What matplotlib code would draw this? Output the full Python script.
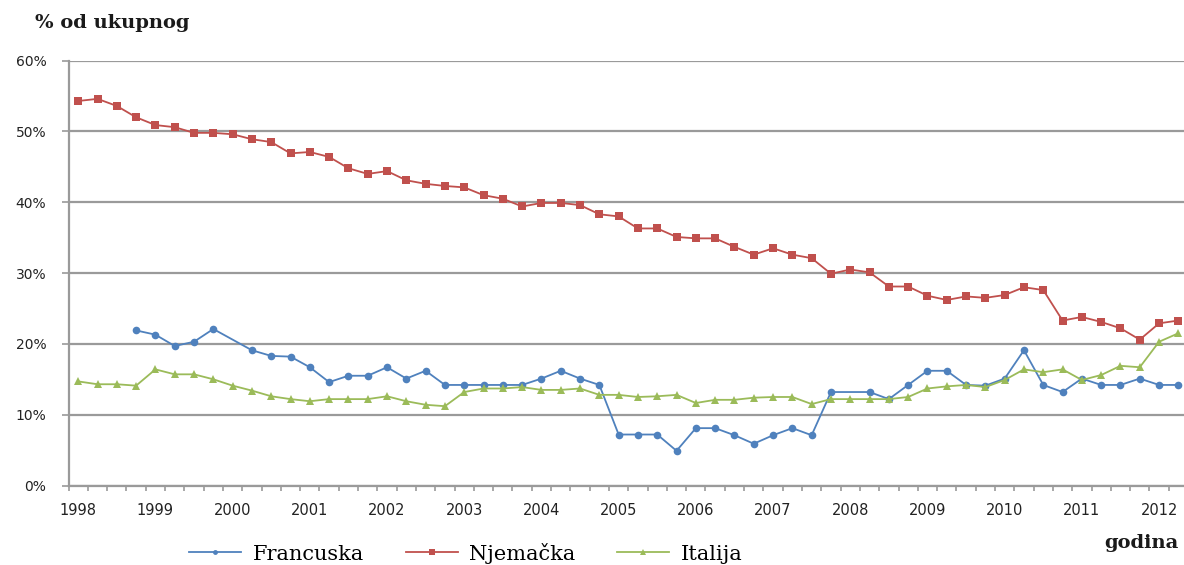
import numpy as np
import matplotlib.pyplot as plt
from matplotlib.ticker import FixedLocator, FuncFormatter

# quarterly data, 1998 Q1 .. 2012 Q2 (58 quarters)
godine = list(range(1998, 2013))

njemacka = [54.3, 54.6, 53.6, 52.0, 50.9, 50.6, 49.8, 49.8, 49.6, 48.9,
            48.5, 46.9, 47.1, 46.4, 44.8, 44.0, 44.4, 43.1, 42.6, 42.3,
            42.1, 41.0, 40.5, 39.4, 39.9, 39.9, 39.6, 38.3, 38.0, 36.3,
            36.3, 35.1, 34.9, 34.9, 33.7, 32.6, 33.5, 32.6, 32.1, 29.9,
            30.5, 30.1, 28.1, 28.1, 26.8, 26.2, 26.7, 26.5, 26.9, 28.0,
            27.6, 23.3, 23.8, 23.1, 22.2, 20.6, 22.9, 23.3]

francuska = [None, None, None, 21.9, 21.3, 19.7, 20.3, 22.1, None, 19.1,
             18.3, 18.2, 16.7, 14.6, 15.5, 15.5, 16.7, 15.1, 16.2, 14.2,
             14.2, 14.2, 14.2, 14.2, 15.1, 16.2, 15.1, 14.2, 7.2, 7.2,
             7.2, 4.9, 8.1, 8.1, 7.1, 5.9, 7.1, 8.1, 7.1, 13.2,
             None, 13.2, 12.2, 14.2, 16.2, 16.2, 14.2, 14.1, 15.1, 19.1,
             14.2, 13.2, 15.1, 14.2, 14.2, 15.1, 14.2, 14.2]

italija = [14.7, 14.3, 14.3, 14.1, 16.4, 15.7, 15.7, 15.0, 14.1, 13.4,
           12.6, 12.2, 11.9, 12.2, 12.2, 12.2, 12.6, 11.9, 11.4, 11.2,
           13.2, 13.7, 13.7, 13.9, 13.5, 13.5, 13.7, 12.8, 12.8, 12.5,
           12.6, 12.8, 11.65, 12.1, 12.1, 12.4, 12.5, 12.5, 11.5, 12.2,
           12.2, 12.2, 12.2, 12.5, 13.7, 14.0, 14.2, 13.9, 14.9, 16.4,
           16.0, 16.4, 14.9, 15.6, 16.9, 16.7, 20.3, 21.5]

n = len(njemacka)
x = np.arange(n)

plava = '#4F81BD'
crvena = '#C0504D'
zelena = '#9BBB59'
siva = '#9a9a9a'

fig = plt.figure(figsize=(11.84, 5.65), dpi=100)
# axes runs a bit past the right edge, like the cropped original
ax = fig.add_axes([0.0579, 0.1407, 0.9455, 0.752])

def crtaj(vals, color, marker, ms):
    v = np.array([np.nan if a is None else a for a in vals], dtype=float)
    ok = ~np.isnan(v)
    ax.plot(x[ok], v[ok], color=color, lw=1.3, marker=marker, ms=ms,
            markeredgewidth=0, zorder=3)

crtaj(francuska, plava, 'o', 5.5)
crtaj(njemacka, crvena, 's', 5.5)
crtaj(italija, zelena, '^', 6)

ax.set_xlim(-0.5, n - 0.5)
ax.set_ylim(0, 60)

# y axis
ax.set_yticks(range(0, 61, 10))
ax.yaxis.set_major_formatter(FuncFormatter(lambda v, p: '%d%%' % v))
ax.yaxis.grid(True, color=siva, lw=1.6)
ax.set_axisbelow(True)

# x axis: labels on every 4th quarter, ticks between categories
ax.set_xticks(np.arange(0, n, 4))
ax.set_xticklabels([str(g) for g in godine])
ax.xaxis.set_minor_locator(FixedLocator(np.arange(-0.5, n, 1)))
ax.tick_params(axis='x', which='major', length=0, pad=12.5, labelsize=10.5,
               labelcolor='#222222')
ax.tick_params(axis='x', which='minor', length=3.6, width=1.2, color=siva)
ax.tick_params(axis='y', length=5, width=1.2, color=siva, pad=11,
               labelsize=10, labelcolor='#222222')

for s in ['top', 'right']:
    ax.spines[s].set_visible(False)
for s in ['left', 'bottom']:
    ax.spines[s].set_color(siva)
    ax.spines[s].set_linewidth(1.6)

fig.text(35 / 1184, 1 - 23 / 565, '% od ukupnog', family='DejaVu Serif',
         fontweight='bold', fontsize=14, va='center', ha='left',
         color='#1a1a1a')
fig.text(1179 / 1184, 1 - 543 / 565, 'godina', family='DejaVu Serif',
         fontweight='bold', fontsize=14, va='center', ha='right',
         color='#1a1a1a')

h1, = ax.plot([], [], color=plava, lw=1.3, marker='o', ms=3.5, markeredgewidth=0)
h2, = ax.plot([], [], color=crvena, lw=1.3, marker='s', ms=4, markeredgewidth=0)
h3, = ax.plot([], [], color=zelena, lw=1.3, marker='^', ms=4, markeredgewidth=0)
leg = fig.legend([h1, h2, h3], ['Francuska', 'Njemačka', 'Italija'],
                 loc='center', bbox_to_anchor=(466 / 1184, 1 - 553 / 565),
                 ncol=3, frameon=False, handlelength=2.5, handletextpad=0.55,
                 columnspacing=2.0, numpoints=1,
                 prop={'family': 'DejaVu Serif', 'size': 15})

fig.savefig('out.png', dpi=100)
